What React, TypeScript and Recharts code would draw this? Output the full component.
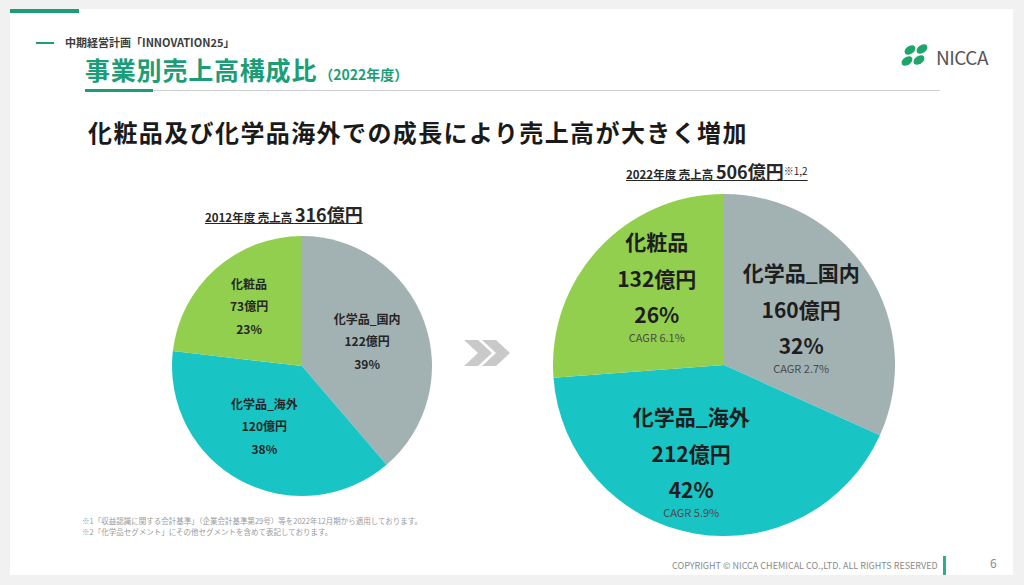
import { Pie, PieChart, Cell } from 'recharts'

const SEGMENTS = ['化学品_国内', '化学品_海外', '化粧品']
const SALES_2012 = [122, 120, 73]
const SHARE_2012 = [39, 38, 23]
const SALES_2022 = [160, 212, 132]
const SHARE_2022 = [32, 42, 26]
const CAGR = ['2.7%', '5.9%', '6.1%']

const COLORS = ['#a2b2b2', '#19c4c4', '#92cf4e']
const FONT = '"Noto Sans CJK JP", "Noto Sans", sans-serif'
const GREEN = '#1b9e77'

const data2012 = SEGMENTS.map((name, i) => ({ name, value: SALES_2012[i], share: SHARE_2012[i] }))
const data2022 = SEGMENTS.map((name, i) => ({
  name,
  value: SALES_2022[i],
  share: SHARE_2022[i],
  cagr: CAGR[i],
}))

const RAD = Math.PI / 180
const NO_MARGIN = { top: 0, right: 0, bottom: 0, left: 0 }

// small hand nudges so the label blocks sit where the slide has them
const NUDGE_SMALL = [[-8, 1], [-1, -10], [-1, -3]]
const NUDGE_BIG = [[-9, 0], [-15, -13], [8, -17]]

function SmallLabel(props: any) {
  const { cx, cy, midAngle, outerRadius, index } = props
  const r = outerRadius * 0.6
  const x = cx + r * Math.cos(-midAngle * RAD) + NUDGE_SMALL[index][0]
  const y = cy + r * Math.sin(-midAngle * RAD) + NUDGE_SMALL[index][1]
  const d = data2012[index]
  return (
    <text
      x={x}
      y={y}
      textAnchor="middle"
      dominantBaseline="central"
      fontFamily={FONT}
      fontWeight={700}
      fontSize={12}
      fill="#262626"
    >
      <tspan x={x} y={y - 22}>{d.name}</tspan>
      <tspan x={x} y={y}>{d.value}億円</tspan>
      <tspan x={x} y={y + 23}>{d.share}%</tspan>
    </text>
  )
}

function BigLabel(props: any) {
  const { cx, cy, midAngle, outerRadius, index } = props
  const r = outerRadius * 0.6
  const x = cx + r * Math.cos(-midAngle * RAD) + NUDGE_BIG[index][0]
  const y = cy + r * Math.sin(-midAngle * RAD) + NUDGE_BIG[index][1]
  const d = data2022[index]
  return (
    <text
      x={x}
      y={y}
      textAnchor="middle"
      dominantBaseline="central"
      fontFamily={FONT}
      fontWeight={700}
      fontSize={21}
      fill="#1e1e1e"
    >
      <tspan x={x} y={y - 37}>{d.name}</tspan>
      <tspan x={x} y={y}>{d.value}億円</tspan>
      <tspan x={x} y={y + 36}>{d.share}%</tspan>
      <tspan x={x} y={y + 59} fontSize={11} fontWeight={400} fill="#4a4a4a">
        CAGR {d.cagr}
      </tspan>
    </text>
  )
}

const abs = (left: number, top: number, extra: any = {}) => ({
  position: 'absolute' as const,
  left,
  top,
  whiteSpace: 'nowrap' as const,
  fontFamily: FONT,
  ...extra,
})

export default function App() {
  return (
    <div
      style={{
        position: 'absolute',
        left: 0,
        top: 0,
        width: 1024,
        height: 585,
        background: '#f1f1f1',
        overflow: 'hidden',
      }}
    >
      <div style={{ position: 'absolute', left: 10, top: 9, width: 1003, height: 566, background: '#fff' }} />
      <div style={{ position: 'absolute', left: 10, top: 9, width: 69, height: 4, background: GREEN }} />

      {/* header */}
      <div style={{ position: 'absolute', left: 36, top: 42, width: 18, height: 2, background: GREEN }} />
      <div style={abs(65, 34, { fontSize: 11, fontWeight: 700, color: '#3c3c3c' })}>
        中期経営計画「INNOVATION25」
      </div>
      <div style={abs(85, 52, { fontSize: 25, fontWeight: 700, color: GREEN, lineHeight: '34px', letterSpacing: 0.8 })}>
        事業別売上高構成比
        <span style={{ fontSize: 14, marginLeft: 2, letterSpacing: 0 }}>（2022年度）</span>
      </div>
      <div style={{ position: 'absolute', left: 152, top: 90, width: 788, height: 1, background: '#cfcfcf' }} />
      <div style={{ position: 'absolute', left: 85, top: 89, width: 68, height: 3, background: GREEN }} />

      {/* logo */}
      <svg style={{ position: 'absolute', left: 898, top: 42 }} width={40} height={30}>
        <g fill="#1fa56a">
          <ellipse cx={12} cy={8} rx={6} ry={4} transform="rotate(-35 12 8)" />
          <ellipse cx={24} cy={7} rx={6} ry={4} transform="rotate(-35 24 7)" />
          <ellipse cx={9} cy={19} rx={6} ry={4} transform="rotate(-35 9 19)" />
          <ellipse cx={21} cy={18} rx={6} ry={4} transform="rotate(-35 21 18)" />
        </g>
      </svg>
      <div style={abs(936, 44, { fontSize: 19, color: '#555', letterSpacing: -0.5, lineHeight: '26px' })}>
        NICCA
      </div>

      {/* headline */}
      <div style={abs(88, 116, { fontSize: 24, fontWeight: 700, color: '#1a1a1a', letterSpacing: 1.4, lineHeight: '32px' })}>
        化粧品及び化学品海外での成長により売上高が大きく増加
      </div>

      {/* pie headers */}
      <div
        style={abs(205, 203, {
          fontSize: 11.5,
          fontWeight: 700,
          color: '#262626',
          textDecoration: 'underline',
          lineHeight: '22px',
        })}
      >
        2012年度 売上高 <span style={{ fontSize: 18 }}>316億円</span>
      </div>
      <div
        style={abs(626, 160, {
          fontSize: 11.5,
          fontWeight: 700,
          color: '#262626',
          textDecoration: 'underline',
          lineHeight: '22px',
        })}
      >
        2022年度 売上高 <span style={{ fontSize: 18 }}>506億円</span>
        <span style={{ fontSize: 10, verticalAlign: 'top', fontWeight: 400 }}>※1,2</span>
      </div>

      {/* 2012 pie */}
      <div style={{ position: 'absolute', left: 152, top: 216 }}>
        <PieChart width={300} height={300} margin={NO_MARGIN}>
          <Pie
            data={data2012}
            dataKey="value"
            nameKey="name"
            cx={150}
            cy={150}
            outerRadius={130}
            startAngle={90}
            endAngle={-270}
            stroke="none"
            labelLine={false}
            label={SmallLabel}
            isAnimationActive={false}
          >
            {data2012.map((d, i) => (
              <Cell key={d.name} fill={COLORS[i]} />
            ))}
          </Pie>
        </PieChart>
      </div>

      {/* arrow */}
      <svg style={{ position: 'absolute', left: 462, top: 338 }} width={54} height={32}>
        <g fill="#c9c9c9">
          <polygon points="2,2 16,2 30,15 16,28 2,28 16,15" />
          <polygon points="20,2 34,2 48,15 34,28 20,28 34,15" />
        </g>
      </svg>

      {/* 2022 pie */}
      <div style={{ position: 'absolute', left: 534, top: 175 }}>
        <PieChart width={380} height={380} margin={NO_MARGIN}>
          <Pie
            data={data2022}
            dataKey="value"
            nameKey="name"
            cx={190}
            cy={190}
            outerRadius={171}
            startAngle={90}
            endAngle={-270}
            stroke="none"
            labelLine={false}
            label={BigLabel}
            isAnimationActive={false}
          >
            {data2022.map((d, i) => (
              <Cell key={d.name} fill={COLORS[i]} />
            ))}
          </Pie>
        </PieChart>
      </div>

      {/* footnotes */}
      <div style={abs(82, 515, { fontSize: 7.5, color: '#9a9a9a', lineHeight: '11px' })}>
        ※1「収益認識に関する会計基準」（企業会計基準第29号）等を2022年12月期から適用しております。
        <br />
        ※2「化学品セグメント」にその他セグメントを含めて表記しております。
      </div>

      {/* footer */}
      <div style={abs(672, 560, { fontSize: 9, color: '#8a8a8a', lineHeight: '12px' })}>
        COPYRIGHT © NICCA CHEMICAL CO.,LTD. ALL RIGHTS RESERVED
      </div>
      <div style={{ position: 'absolute', left: 943, top: 556, width: 3, height: 19, background: '#2bb08a' }} />
      <div style={abs(990, 555, { fontSize: 12, color: '#8a8a8a', lineHeight: '16px' })}>6</div>
    </div>
  )
}
